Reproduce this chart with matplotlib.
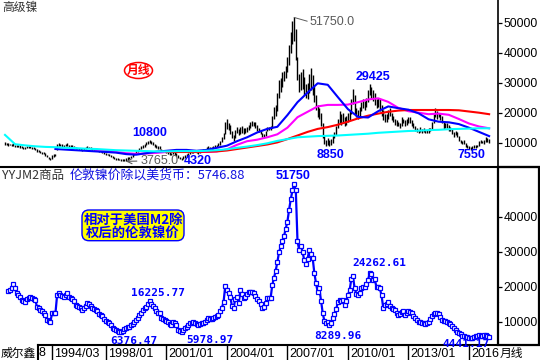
import numpy as np
import matplotlib
matplotlib.use("Agg")
import matplotlib.pyplot as plt
from matplotlib.patches import FancyBboxPatch, Ellipse, Rectangle
from matplotlib.lines import Line2D
from matplotlib.transforms import IdentityTransform

plt.rcParams['font.family'] = ['Liberation Sans', 'Noto Sans CJK SC', 'DejaVu Sans']

# ---------------- data ----------------
# monthly high / low of LME nickel (thousand USD per ton), one value per bar
nickel_high_k = [
    10.4, 10.0, 9.8, 9.7, 9.6, 9.8, 9.4, 9.2, 9.3, 9.1, 8.9, 8.6,
    8.5, 8.8, 8.9, 8.9, 8.7, 8.5, 8.3, 7.8, 7.5, 7.3, 7.0, 6.8,
    6.5, 6.0, 5.4, 5.0, 5.8, 6.2, 6.4, 9.6, 10.0, 9.7, 9.5, 9.4,
    9.7, 9.9, 9.4, 9.2, 9.1, 8.9, 8.6, 8.4, 8.3, 8.2, 8.0, 8.3,
    8.6, 8.9, 8.7, 8.6, 8.3, 8.2, 8.1, 8.0, 7.7, 7.6, 7.4, 7.0,
    6.6, 6.4, 6.2, 5.9, 5.5, 5.2, 5.0, 4.8, 4.7, 4.6, 4.6, 4.5,
    4.8, 5.1, 5.4, 5.7, 6.2, 6.7, 7.2, 7.7, 8.3, 8.8, 9.3, 9.7,
    10.1, 10.5, 10.8, 10.6, 10.2, 9.7, 9.2, 8.9, 8.8, 8.0, 7.7, 7.5,
    7.2, 7.1, 6.8, 6.6, 7.0, 6.8, 6.5, 5.8, 5.4, 5.0, 5.5, 5.9,
    6.3, 6.6, 7.0, 7.3, 7.4, 7.5, 7.3, 7.0, 7.2, 7.5, 7.9, 7.9,
    8.5, 8.9, 8.7, 8.5, 8.9, 9.3, 9.3, 9.9, 10.6, 11.8, 13.2, 17.0,
    17.8, 16.6, 15.8, 14.0, 12.5, 14.2, 15.2, 14.6, 15.4, 15.6, 14.9, 15.0,
    15.4, 16.0, 16.8, 17.2, 17.0, 16.9, 16.0, 14.9, 14.1, 13.2, 13.0, 14.0,
    15.2, 15.3, 15.6, 18.8, 22.0, 22.5, 26.5, 31.0, 31.5, 33.5, 34.0, 35.5,
    38.5, 42.5, 47.0, 50.5, 51.75, 48.0, 38.5, 33.0, 33.5, 34.5, 32.0, 29.5,
    30.0, 33.0, 35.0, 32.5, 29.0, 26.0, 22.5, 21.5, 20.0, 16.5, 12.5, 11.0,
    11.5, 10.8, 11.2, 12.5, 13.5, 15.5, 18.0, 20.5, 19.5, 20.0, 18.5, 19.0,
    20.0, 21.0, 24.5, 28.0, 26.0, 21.5, 21.0, 22.0, 23.5, 24.5, 24.0, 25.0,
    27.5, 29.425, 28.5, 27.5, 26.5, 24.5, 25.0, 24.5, 22.5, 21.0, 19.5, 19.5,
    21.0, 21.5, 20.0, 19.0, 18.0, 17.5, 17.0, 16.5, 18.5, 18.0, 17.5, 18.0,
    18.5, 18.5, 17.5, 16.5, 15.5, 15.0, 14.2, 15.2, 14.6, 14.8, 14.3, 14.4,
    14.8, 15.0, 17.0, 19.5, 21.5, 20.5, 20.0, 19.5, 19.0, 17.0, 16.5, 16.5,
    15.8, 15.2, 14.5, 13.5, 14.0, 13.5, 12.3, 11.0, 10.5, 10.8, 9.8, 9.2,
    8.8, 8.6, 9.0, 9.3, 9.2, 9.3, 10.5, 10.8, 10.6, 10.8, 11.8, 11.5, 11.3,
]
nickel_low_k = [
    9.2, 9.3, 9.0, 9.1, 8.9, 9.0, 8.7, 8.6, 8.7, 8.4, 8.2, 8.0,
    7.9, 8.1, 8.2, 8.3, 8.0, 7.8, 7.5, 7.0, 6.8, 6.6, 6.4, 6.1,
    5.7, 5.1, 4.6, 4.4, 4.6, 5.4, 5.5, 7.6, 9.0, 8.8, 8.7, 8.6,
    8.9, 9.0, 8.7, 8.5, 8.4, 8.3, 7.8, 7.8, 7.7, 7.6, 7.3, 7.6,
    7.9, 8.2, 8.1, 7.9, 7.7, 7.6, 7.5, 7.3, 7.0, 6.9, 6.6, 6.2,
    5.9, 5.8, 5.6, 5.2, 4.8, 4.6, 4.4, 4.2, 4.1, 4.0, 3.9, 3.765,
    4.0, 4.3, 4.6, 4.9, 5.3, 5.8, 6.2, 6.8, 7.3, 7.8, 8.3, 8.7,
    9.1, 9.6, 9.9, 9.6, 9.1, 8.7, 8.2, 8.0, 7.9, 7.1, 6.9, 6.8,
    6.5, 6.4, 6.0, 5.9, 6.3, 6.0, 5.7, 5.0, 4.6, 4.32, 4.6, 5.0,
    5.4, 5.9, 6.2, 6.6, 6.7, 6.8, 6.6, 6.4, 6.6, 6.8, 7.1, 7.2,
    7.6, 8.0, 7.8, 7.7, 8.0, 8.4, 8.5, 8.9, 9.3, 10.2, 11.2, 12.8,
    14.5, 14.2, 13.0, 11.5, 10.6, 11.6, 13.3, 12.6, 13.0, 13.4, 12.9, 13.2,
    13.7, 14.4, 15.0, 15.5, 15.6, 15.0, 14.0, 13.6, 12.8, 11.8, 11.8, 12.3,
    13.8, 14.2, 14.4, 15.0, 17.8, 18.8, 20.5, 25.0, 27.0, 28.5, 30.5, 31.5,
    33.5, 36.0, 40.0, 43.0, 44.0, 37.5, 31.0, 27.0, 27.5, 28.0, 26.0, 25.0,
    24.5, 26.5, 27.5, 26.0, 23.5, 21.0, 18.5, 18.0, 15.5, 11.5, 9.5, 8.85,
    9.2, 9.0, 9.2, 10.0, 11.5, 12.5, 14.8, 16.5, 16.0, 16.5, 15.5, 16.0,
    17.0, 17.5, 19.5, 23.0, 19.5, 18.5, 18.0, 19.0, 20.5, 21.5, 21.0, 22.0,
    23.5, 26.0, 24.5, 24.0, 22.5, 21.5, 22.0, 20.5, 19.0, 17.5, 17.0, 17.0,
    18.0, 19.0, 17.5, 17.0, 16.0, 15.5, 15.5, 15.0, 15.5, 16.5, 15.5, 16.0,
    16.5, 16.5, 15.5, 14.8, 14.0, 13.5, 13.3, 13.5, 13.3, 13.5, 13.3, 13.4,
    13.3, 13.8, 14.5, 16.5, 18.5, 18.0, 18.5, 17.5, 16.5, 14.5, 15.0, 15.0,
    14.0, 13.8, 12.8, 12.0, 12.5, 11.8, 10.5, 9.8, 9.5, 9.6, 8.6, 8.3,
    7.8, 7.55, 8.0, 8.3, 8.4, 8.5, 9.0, 9.8, 9.8, 9.7, 10.3, 10.4, 10.0,
]
# nickel price divided by US M2 (thousand), one value per bar
nickel_m2_k = [
    np.nan, np.nan, 18.9, 19.2, 19.5, 20.7, 19.5, 18.1, 17.6, 17.0, 16.2, 16.0,
    15.7, 16.4, 16.8, 17.0, 16.8, 16.4, 16.2, 14.3, 14.0, 13.3, 13.0, 12.4,
    11.9, 10.6, 10.2, 10.0, 12.4, 12.4, 12.4, 17.6, 18.2, 17.6, 17.3, 17.2,
    17.6, 18.2, 17.2, 16.7, 16.4, 16.0, 14.8, 14.6, 14.3, 14.0, 13.3, 14.0,
    14.6, 15.4, 15.0, 14.6, 14.0, 13.7, 13.4, 13.0, 12.2, 11.9, 11.5, 10.8,
    10.1, 9.9, 9.6, 9.0, 8.3, 7.9, 7.5, 7.3, 7.1, 7.2, 7.4, 7.8,
    8.1, 8.4, 8.6, 9.0, 9.4, 9.9, 10.4, 11.2, 11.9, 12.6, 13.3, 13.8,
    14.3, 15.0, 16.0, 15.2, 14.5, 13.8, 13.0, 12.6, 12.4, 11.0, 10.7, 10.5,
    10.1, 10.0, 9.4, 9.2, 10.0, 9.5, 9.0, 7.7, 7.3, 7.1, 7.6, 8.1,
    8.6, 9.1, 9.5, 9.7, 9.8, 9.7, 9.4, 9.1, 9.3, 9.5, 9.7, 10.0,
    10.5, 11.0, 10.9, 10.8, 11.1, 11.4, 11.7, 11.9, 13.0, 14.0, 15.5, 20.2,
    19.2, 18.2, 17.1, 14.5, 14.0, 16.5, 17.0, 15.3, 19.0, 18.0, 16.7, 17.2,
    18.0, 18.6, 18.6, 18.4, 18.1, 17.3, 16.5, 16.0, 15.0, 13.8, 14.3, 15.3,
    16.7, 16.7, 16.7, 20.5, 22.5, 24.5, 27.0, 29.8, 31.5, 33.0, 34.5, 36.5,
    38.6, 42.0, 45.0, 47.5, 49.3, 47.5, 33.0, 30.5, 31.5, 30.0, 27.6, 26.5,
    28.0, 30.5, 29.3, 28.3, 24.0, 21.0, 18.5, 19.5, 16.0, 12.5, 10.2, 9.6,
    9.8, 9.2, 9.6, 11.0, 12.3, 13.6, 15.5, 16.2, 15.8, 16.2, 14.8, 15.8,
    17.6, 19.0, 22.1, 23.0, 19.5, 18.0, 17.6, 18.1, 19.5, 20.0, 19.8, 20.7,
    22.0, 24.0, 23.5, 21.9, 22.1, 19.8, 19.8, 19.5, 17.5, 14.0, 14.8, 15.2,
    15.5, 14.6, 13.8, 13.5, 13.3, 12.6, 11.9, 12.3, 12.8, 13.1, 11.9, 12.6,
    13.0, 12.8, 12.4, 11.7, 11.0, 10.4, 10.0, 9.8, 9.7, 9.5, 9.3, 9.6,
    10.0, 10.8, 11.5, 12.3, 12.5, 12.5, 12.3, 11.3, 10.4, 10.3, 10.1, 10.0,
    9.6, 9.4, 8.9, 8.2, 7.5, 7.0, 6.7, 6.4, 6.0, 5.8, 5.6, 5.5,
    5.3, 5.3, 5.3, 5.5, 5.9, 6.0, 6.2, 6.0, 5.9, 6.1, 6.2, 5.9, 5.74688,
]
# moving averages, one reading every MA_STEP bars (thousand USD)
MA_STEP = 6
ma_blue_start = 30
ma_blue_k = [7.9, 7.7, 7.5, 7.3, 7.1, 6.9, 6.7, 6.2, 6.0, 6.5, 7.0, 7.3, 7.6, 7.6, 7.3,
             7.6, 8.3, 9.0, 10.5, 11.8, 13.4, 14.6, 15.3, 19.2, 23.5, 26.7, 29.8, 29.3,
             25.2, 21.2, 18.6, 18.4, 20.5, 22.1, 21.5, 21.0, 19.8, 17.8, 17.0, 16.8,
             16.2, 15.0, 13.6, 12.2]
ma_magenta_start = 54
ma_magenta_k = [7.6, 7.3, 6.9, 6.5, 6.3, 6.4, 6.6, 6.9, 7.0, 7.1, 7.0, 6.9, 7.1, 7.8,
                9.3, 10.5, 11.0, 11.8, 12.8, 15.0, 18.5, 20.3, 22.1, 22.6, 22.6, 22.7,
                23.5, 24.4, 24.8, 23.6, 21.6, 20.5, 20.0, 19.5, 19.7, 19.3, 17.9, 16.4,
                15.4, 14.8]
ma_red_start = 96
ma_red_k = [7.0, 6.9, 6.9, 6.9, 7.0, 7.1, 7.4, 7.9, 8.4, 8.9, 9.4, 10.1, 11.2, 12.4,
            13.6, 14.6, 15.2, 16.0, 17.0, 18.1, 19.0, 19.7, 20.3, 20.7, 20.9, 20.9,
            20.9, 20.9, 20.9, 20.8, 20.4, 20.0, 19.5]
ma_cyan_start = 0
ma_cyan_k = [12.6, 9.5, 9.1, 8.8, 8.6, 8.5, 8.3, 8.2, 8.0, 7.9, 7.7, 7.5, 7.4, 7.3,
             7.2, 7.1, 7.1, 7.2, 7.2, 7.2, 7.3, 7.5, 7.8, 8.3, 8.7, 9.2, 9.8, 10.6,
             11.2, 11.8, 12.0, 12.2, 12.3, 12.4, 12.6, 12.8, 13.0, 13.3, 13.5, 13.7,
             13.9, 14.0, 14.2, 14.3, 14.5, 14.6, 14.7, 14.8, 14.8]

date_labels = ['1994/03', '1998/01', '2001/01', '2004/01', '2007/01', '2010/01', '2013/01', '2016']
date_bars = [28, 60, 96, 132, 168, 204, 240, 276]
top_ticks = [10000, 20000, 30000, 40000, 50000]
low_ticks = [10000, 20000, 30000, 40000]

# ---------------- figure ----------------
W, H = 540, 360
fig = plt.figure(figsize=(W / 100, H / 100), dpi=100)
fig.patch.set_facecolor('white')


def fr(x, y):
    return (x / W, 1 - y / H)


X0_PX, DX_PX = 5.0, 1.681
XLIM = ((0 - X0_PX) / DX_PX, (498 - X0_PX) / DX_PX)

BLUE = '#0000ff'

# ---- top panel ----
ax1 = fig.add_axes([0, 1 - 167 / H, 498 / W, 167 / H])
ax1.set_xlim(*XLIM)
ax1.set_ylim(1900, 57567)
high = np.array(nickel_high_k) * 1000
low = np.array(nickel_low_k) * 1000
idx = np.arange(len(high))
ax1.vlines(idx, low, high, colors='black', linewidth=1.0, zorder=2)

for start, vals, col, z in [(ma_magenta_start, ma_magenta_k, '#ff00ff', 4),
                            (ma_red_start, ma_red_k, '#ff0000', 5),
                            (ma_blue_start, ma_blue_k, '#0000ff', 6),
                            (ma_cyan_start, ma_cyan_k, '#00ffff', 7)]:
    xs = start + MA_STEP * np.arange(len(vals))
    ax1.plot(xs, np.array(vals) * 1000, color=col, lw=1.5, zorder=z)

ax1.yaxis.tick_right()
ax1.set_yticks(top_ticks)
ax1.set_yticklabels([str(t) for t in top_ticks])
ax1.tick_params(axis='y', direction='out', length=3, width=0.9, pad=0.8,
                labelsize=8.7, colors='black')
ax1.set_xticks([])
for s in ['top', 'left', 'bottom']:
    ax1.spines[s].set_visible(False)
ax1.spines['right'].set_linewidth(1.2)

pk = int(np.argmax(high))
ax1.annotate('51750.0', xy=(pk, high[pk]), xycoords='data',
             xytext=fr(310, 22), textcoords='figure fraction',
             ha='left', va='center', color='#5a5a5a', fontsize=9,
             arrowprops=dict(arrowstyle='-', color='#5a5a5a', lw=0.7,
                             relpos=(0, 0.5), shrinkA=0, shrinkB=0))
lo = int(np.argmin(low))
ax1.annotate('3765.0', xy=(lo, low[lo]), xycoords='data',
             xytext=fr(141, 161), textcoords='figure fraction',
             ha='left', va='center', color='#5a5a5a', fontsize=9,
             arrowprops=dict(arrowstyle='->', color='#5a5a5a', lw=0.8,
                             relpos=(0, 0.5), shrinkA=1, shrinkB=1))

for txt, (x, y) in [('10800', (150, 133.3)), ('4320', (198, 161.5)),
                    ('8850', (330.5, 155)), ('7550', (471.5, 155)),
                    ('29425', (372.5, 77.3))]:
    fig.text(*fr(x, y), txt, ha='center', va='center', fontsize=9,
             fontweight='bold', color=BLUE, zorder=10)

fig.text(*fr(2, 8), '高级镍', ha='left', va='center', fontsize=8.5,
         color='#333333', family=['Noto Sans CJK SC'])
fig.add_artist(Ellipse(fr(138.5, 70.5), 28 / W, 16 / H, transform=fig.transFigure,
                       facecolor='white', edgecolor='#ff0000', lw=1.1))
fig.text(*fr(138.5, 70.5), '月线', ha='center', va='center', fontsize=8.5,
         fontweight='bold', color='#ff0000', family=['Noto Sans CJK SC'])

# ---- lower panel ----
ax2 = fig.add_axes([0, 1 - 345 / H, 498 / W, 178 / H])
ax2.set_xlim(*XLIM)
ax2.set_ylim(3343, 54200)
ratio = np.array(nickel_m2_k, dtype=float) * 1000
ax2.plot(np.arange(len(ratio)), ratio, color=BLUE, lw=1.6, marker='s', ms=2.9,
         mfc='white', mec=BLUE, mew=0.9, zorder=3)
ax2.yaxis.tick_right()
ax2.set_yticks(low_ticks)
ax2.set_yticklabels([str(t) for t in low_ticks])
ax2.tick_params(axis='y', direction='out', length=3, width=0.9, pad=0.8,
                labelsize=8.7, colors='black')
ax2.set_xticks([])
for s in ['top', 'left', 'bottom', 'right']:
    ax2.spines[s].set_visible(False)

fig.text(*fr(2, 175), 'YYJM2商品', ha='left', va='center', fontsize=9,
         color='#333333', family=['Noto Sans CJK SC'])
fig.text(*fr(70, 175), '伦敦镍价除以美货币：%.2f' % ratio[-1], ha='left', va='center',
         fontsize=9.3, color='#1010e0', family=['Noto Sans CJK SC'])

box = FancyBboxPatch((82, H - 240.7), 102, 30.7,
                     boxstyle='round,pad=0,rounding_size=7',
                     transform=IdentityTransform(), facecolor='#ffff00',
                     edgecolor=BLUE, lw=1.0, zorder=5)
fig.add_artist(box)
fig.text(*fr(133, 226.3), '相对于美国M2除\n权后的伦敦镍价', ha='center', va='center',
         fontsize=9.6, linespacing=0.9, fontweight='bold', color=BLUE,
         family=['Noto Sans CJK SC'], zorder=6)

fig.text(*fr(293, 176), '51750', ha='center', va='center', fontsize=9,
         fontweight='bold', color=BLUE, zorder=10)
for txt, (x, y) in [('16225.77', (158.5, 293.3)), ('6376.47', (133.5, 341)),
                    ('5978.97', (209.5, 340)), ('8289.96', (337.5, 336)),
                    ('24262.61', (379.7, 263.3)), ('4441.17', (466, 344.3))]:
    fig.text(*fr(x, y), txt, ha='center', va='center', fontsize=8,
             fontweight='bold', color=BLUE, family=['DejaVu Sans Mono'], zorder=10)

# ---- frame lines ----
fig.add_artist(Line2D([0, 1], [1 - 167 / H] * 2, color='black', lw=1.5,
                      transform=fig.transFigure))
fig.add_artist(Line2D([37.7 / W, 498 / W], [1 - 345 / H] * 2, color='black', lw=1.5,
                      transform=fig.transFigure))
fig.add_artist(Line2D([37.7 / W] * 2, [1 - 345 / H, 0], color='black', lw=1.5,
                      transform=fig.transFigure))
fig.add_artist(Rectangle((498 / W, 1 - 345 / H), 41 / W, 178 / H, fill=False,
                         edgecolor='black', lw=1.6, transform=fig.transFigure))

# ---- date bar ----
ax3 = fig.add_axes([0, 0, 498 / W, 15 / H])
ax3.set_xlim(*XLIM)
ax3.set_ylim(0, 1)
ax3.axis('off')
ax3.vlines(date_bars, 0, 1, colors='black', lw=1.0)
for b, lab in zip(date_bars, date_labels):
    ax3.text(b + 1.2, 0.4, lab, ha='left', va='center', fontsize=9, color='black')

fig.text(*fr(1, 353), '威尔鑫', ha='left', va='center', fontsize=8.5,
         color='black', family=['Noto Sans CJK SC'])
fig.text(*fr(39, 353.5), '8', ha='left', va='center', fontsize=9, color='black')
fig.text(*fr(500, 353), '月线', ha='left', va='center', fontsize=8.5,
         color='black', family=['Noto Sans CJK SC'])

fig.savefig('out.png', dpi=100)
